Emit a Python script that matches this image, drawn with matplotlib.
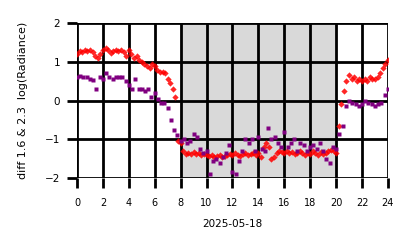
import numpy as np
import matplotlib
matplotlib.use("Agg")
import matplotlib.pyplot as plt

# red series: 0.2 h steps
red_hours = np.arange(0, 24.01, 0.2)
red_vals = [
    1.20, 1.28, 1.25, 1.30, 1.27, 1.30, 1.25, 1.15, 1.10, 1.20,
    1.30, 1.35, 1.30, 1.22, 1.28, 1.30, 1.27, 1.30, 1.25, 1.15,
    1.30, 1.20, 1.10, 1.15, 1.05, 1.00, 0.95, 0.90, 0.85, 0.95,
    0.90, 0.80, 0.75, 0.75, 0.70, 0.55, 0.45, 0.30, 0.10, -1.05,
    -1.10, -1.30, -1.38, -1.35, -1.37, -1.33, -1.38, -1.35, -1.40, -1.38,
    -1.40, -1.42, -1.40, -1.45, -1.42, -1.40, -1.45, -1.42, -1.40, -1.38,
    -1.40, -1.35, -1.40, -1.42, -1.38, -1.35, -1.40, -1.38, -1.35, -1.40,
    -1.35, -1.45, -1.20, -1.10, -1.20, -1.50, -1.45, -1.35, -1.30, -1.32,
    -1.35, -1.30, -1.35, -1.32, -1.38, -1.35, -1.30, -1.35, -1.40, -1.35,
    -1.38, -1.30, -1.35, -1.40, -1.32, -1.38, -1.35, -1.30, -1.28, -1.30,
    -1.35, -0.65, -0.10, 0.25, 0.50, 0.65, 0.55, 0.60, 0.50, 0.55,
    0.50, 0.55, 0.50, 0.60, 0.55, 0.55, 0.60, 0.70, 0.85, 0.95,
    1.05,
]

# purple series: 0.25 h steps
purple_hours = np.arange(0, 24.01, 0.25)
purple_vals = [
    0.62, 0.63, 0.62, 0.60, 0.55, 0.52, 0.30, 0.60, 0.55, 0.70,
    0.60, 0.55, 0.60, 0.62, 0.60, 0.50, 0.40, 0.30, 0.55, 0.30,
    0.30, 0.25, 0.30, 0.10, 0.20, 0.05, -0.05, -0.05, -0.20, -0.50,
    -0.75, -0.90, -1.05, -1.00, -1.10, -1.05, -0.85, -0.95, -1.25, -1.35,
    -1.30, -1.90, -1.55, -1.50, -1.60, -1.45, -1.35, -1.15, -1.85, -1.90,
    -1.55, -1.30, -1.00, -1.10, -1.00, -1.30, -0.95, -1.25, -1.30, -0.70,
    -1.00, -0.95, -1.10, -1.20, -0.80, -1.20, -1.10, -1.00, -1.30, -1.10,
    -1.15, -1.30, -1.20, -1.15, -1.25, -1.10, -1.30, -1.50, -1.60, -1.20,
    -1.25, -0.85, -0.65, -0.15, 0.00, -0.05, -0.10, -0.15, -0.10, 0.00,
    -0.05, -0.10, -0.15, -0.10, -0.05, 0.15, 0.30,
]

night_start, night_end = 8, 20

fig = plt.figure(figsize=(4.14, 2.48), dpi=100)
ax = fig.add_axes([0.186, 0.282, 0.751, 0.625])

ax.axvspan(night_start, night_end, color="#d9d9d9", zorder=0)
ax.plot(red_hours, red_vals, "D", color="red", ms=3.2, mec="none", alpha=0.85, zorder=3)
ax.plot(purple_hours, purple_vals, "s", color="purple", ms=2.6, mec="none", zorder=4)

ax.set_xlim(0, 24)
ax.set_ylim(-2, 2)
ax.set_xticks(range(0, 25, 2))
ax.set_yticks([-2, -1, 0, 1, 2])
ax.grid(True, color="black", lw=2)
ax.set_axisbelow(False)
for s in ax.spines.values():
    s.set_visible(False)
ax.tick_params(length=7, width=2, labelsize=7.5, pad=5)
ax.tick_params(axis="x", labelsize=7, pad=7)
ax.set_xlabel("2025-05-18", fontsize=7.5, labelpad=8)
ax.set_ylabel("diff 1.6 & 2.3  log(Radiance)", fontsize=8, labelpad=12)

fig.savefig("out.png", dpi=100)
